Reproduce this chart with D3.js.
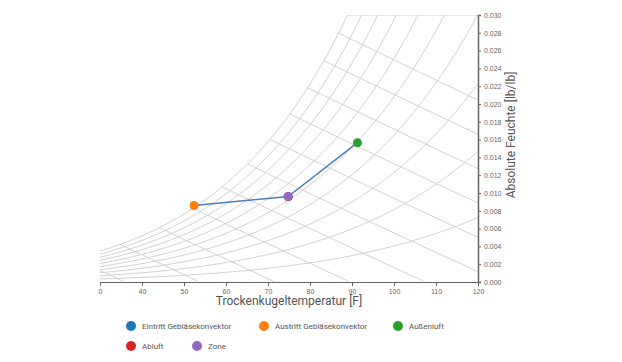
<!DOCTYPE html>
<head>
  <meta charset="utf-8">
  <title>Psychrometrisches Diagramm</title>
</head>
<style>
  body { margin: 0; background: #fff; }
  svg { display: block; font-family: Roboto, "Noto Sans", sans-serif; }
  .grid path { fill: none; stroke: #d0d0d0; stroke-width: 1; }
  .axis text { fill: #666; font-size: 7px; }
  .axis path, .axis line { stroke: #666; }
  .title { fill: #555; font-size: 12px; }
  .legend text { fill: #555; font-size: 8px; }
</style>
<svg width="622" height="362"></svg>
<script src="https://d3js.org/d3.v7.min.js"></script>
<script>
  // data
  var tempTicks = [30, 40, 50, 60, 70, 80, 90, 100, 110, 120];
  var tempTickLabels = ["0", "40", "50", "60", "70", "80", "90", "100", "110", "120"];
  var humTicks = d3.range(0, 0.0301, 0.002);
  var rhLevels = [0.1, 0.2, 0.3, 0.4, 0.5, 0.6, 0.7, 0.8, 0.9, 1.0];
  var enthalpyLevels = [20, 30, 40, 50, 60, 70, 80, 90, 100, 110, 120]; // kJ/kg

  var pointNames = ["Eintritt Gebläsekonvektor", "Austritt Gebläsekonvektor", "Außenluft", "Abluft", "Zone"];
  var pointColors = ["#1f77b4", "#ff7f0e", "#2ca02c", "#d62728", "#9467bd"];
  var pointTemp = [74.8, 52.4, 91.3, 74.8, 74.8];
  var pointHum = [0.0096, 0.0086, 0.01565, 0.0096, 0.0096];
  var processOrder = [1, 0, 2];

  var svg = d3.select("svg"),
    x = d3.scaleLinear().domain([30, 120]).range([100, 478]),
    y = d3.scaleLinear().domain([0, 0.03]).range([282, 15]);

  // psychrometrics (IP units, sea level)
  var P = 14.696;
  function pws(tF) {
    var T = tF + 459.67;
    return Math.exp(-1.0440397e4 / T - 1.129465e1 - 2.7022355e-2 * T + 1.289036e-5 * T * T
      - 2.4780681e-9 * T * T * T + 6.5459673 * Math.log(T));
  }
  function humRatio(tF, rh) {
    var pw = rh * pws(tF);
    return 0.621945 * pw / (P - pw);
  }
  function enthalpy(tF, w) { return 0.24 * tF + w * (1061 + 0.444 * tF); }

  svg.append("clipPath").attr("id", "plot")
    .append("rect").attr("x", 100).attr("y", 15).attr("width", 378).attr("height", 267);

  var line = d3.line()
    .x(function (d) { return x(d[0]); })
    .y(function (d) { return y(d[1]); });

  var grid = svg.append("g").attr("class", "grid").attr("clip-path", "url(#plot)");

  rhLevels.forEach(function (rh) {
    var pts = d3.range(30, 120.01, 0.5).map(function (t) { return [t, humRatio(t, rh)]; });
    grid.append("path").attr("d", line(pts));
  });

  enthalpyLevels.forEach(function (hk) {
    var h = hk / 2.326;
    var lo = 30, hi = 120;
    if (enthalpy(30, humRatio(30, 1)) < h) {
      for (var i = 0; i < 50; i++) {
        var mid = (lo + hi) / 2;
        if (enthalpy(mid, humRatio(mid, 1)) < h) lo = mid; else hi = mid;
      }
    }
    var tEnd = h / 0.24;
    var pts = d3.range(lo, tEnd + 0.01, 0.5).map(function (t) {
      return [t, (h - 0.24 * t) / (1061 + 0.444 * t)];
    });
    grid.append("path").attr("d", line(pts));
  });

  // top edge of the chart area
  var tTop = 60, tHi = 120;
  for (var k = 0; k < 50; k++) {
    var m = (tTop + tHi) / 2;
    if (humRatio(m, 1) < 0.03) tTop = m; else tHi = m;
  }
  grid.append("path").attr("d", line([[tTop, 0.03], [120, 0.03]]));

  // axes
  svg.append("g").attr("class", "axis")
    .attr("transform", "translate(0,282)")
    .call(d3.axisBottom(x).tickValues(tempTicks).tickSize(4)
      .tickFormat(function (d, i) { return tempTickLabels[i]; }));

  svg.append("g").attr("class", "axis")
    .attr("transform", "translate(478,0)")
    .call(d3.axisRight(y).tickValues(humTicks).tickSize(3).tickFormat(d3.format(".3f")))
    .select(".domain").attr("stroke-width", 1.5);

  svg.append("text").attr("class", "title")
    .attr("x", 289).attr("y", 305).attr("text-anchor", "middle")
    .text("Trockenkugeltemperatur [F]");

  svg.append("text").attr("class", "title")
    .attr("transform", "translate(515,135) rotate(-90)").attr("text-anchor", "middle")
    .text("Absolute Feuchte [lb/lb]");

  // process line and points
  svg.append("path")
    .attr("d", line(processOrder.map(function (i) { return [pointTemp[i], pointHum[i]]; })))
    .attr("fill", "none").attr("stroke", "#4a7fbf").attr("stroke-width", 1.5);

  svg.selectAll(".pt").data(pointNames).enter().append("circle")
    .attr("class", "pt")
    .attr("cx", function (d, i) { return x(pointTemp[i]); })
    .attr("cy", function (d, i) { return y(pointHum[i]); })
    .attr("r", 4.5)
    .attr("fill", function (d, i) { return pointColors[i]; });

  // legend
  var legendX = [131, 264, 398, 131, 197],
    legendY = [326, 326, 326, 346, 346];
  var lg = svg.append("g").attr("class", "legend").selectAll("g")
    .data(pointNames).enter().append("g")
    .attr("transform", function (d, i) { return "translate(" + legendX[i] + "," + legendY[i] + ")"; });
  lg.append("circle").attr("r", 5).attr("fill", function (d, i) { return pointColors[i]; });
  lg.append("text").attr("x", 11).attr("dy", "0.35em").text(function (d) { return d; });
</script>
